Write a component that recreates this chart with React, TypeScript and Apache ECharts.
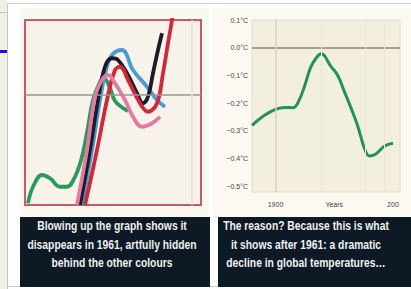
import { useEffect, useRef } from "react";
import * as echarts from "echarts";

// ---- Left panel (blown-up multi-proxy graph) ----
const greenPts = [[1861,-0.433],[1866,-0.367],[1875,-0.32],[1883,-0.333],[1893,-0.367],[1900,-0.367],[1908,-0.327],[1915,-0.247],[1921,-0.127],[1926,-0.02],[1933,0.053],[1937,0.066],[1943,0.028],[1948,-0.024],[1956,-0.052],[1961,-0.064]];
const bluePts = [[1915,-0.44],[1925,-0.22],[1933,-0.02],[1939,0.10],[1945,0.16],[1955,0.18],[1966,0.10],[1980,0.033],[1990,-0.02],[1998,-0.047]];
const blackPts = [[1913,-0.44],[1923,-0.22],[1931,-0.02],[1938,0.113],[1945,0.147],[1951,0.14],[1960,0.087],[1970,0.007],[1976,-0.033],[1981,-0.007],[1986,0.087],[1991,0.18],[1995,0.247]];
const redPts = [[1918,-0.44],[1930,-0.22],[1940,-0.02],[1948,0.10],[1953,0.113],[1961,0.06],[1973,-0.033],[1981,-0.067],[1990,-0.033],[1996,0.087],[2001,0.207],[2005,0.30],[2006,0.34]];
const pinkPts = [[1910,-0.44],[1920,-0.22],[1928,-0.007],[1935,0.06],[1941,0.08],[1948,0.047],[1958,-0.02],[1966,-0.087],[1975,-0.127],[1985,-0.113],[1993,-0.087]];
const bandYears = [1861,1873,1888,1903,1918,1928,1938,1948,1958,1965,1973,1983,1993,2008,2023];
const bandLower = [-0.44,-0.44,-0.44,-0.44,-0.44,-0.34,-0.22,-0.26,-0.32,-0.32,-0.26,-0.10,-0.06,-0.04,-0.02];
const bandUpper = [-0.22,-0.18,-0.22,-0.26,-0.06,0.26,0.28,0.28,0.22,0.14,0.10,0.06,0.0,-0.02,-0.02];

// ---- Right panel (tree-ring series with post-1961 decline) ----
const rightYears = [1880,1890,1900,1908,1915,1920,1925,1930,1935,1939,1947,1953,1959,1965,1970,1976,1980,1985,1993,2000];
const rightValues = [-0.28,-0.245,-0.222,-0.215,-0.216,-0.19,-0.135,-0.07,-0.035,-0.022,-0.066,-0.10,-0.162,-0.225,-0.282,-0.366,-0.39,-0.384,-0.354,-0.344];
const rightYTicks = [0.1, 0, -0.1, -0.2, -0.3, -0.4, -0.5];
const rightYLabels = ["0.1°C", "0.0°C", "−0.1°C", "−0.2°C", "−0.3°C", "−0.4°C", "−0.5°C"];
const rightXTicks = [1900, 1950, 2000];
const rightXLabels = ["1900", "Years", "200"];

const leftCaption = ["Blowing up the graph shows it", "disappears in 1961, artfully hidden", "behind the other colours"];
const rightCaption = ["The reason? Because this is what", "it shows after 1961: a dramatic", "decline in global temperatures…"];

const SANS = '"Liberation Sans", Arial, sans-serif';

function lbl(ticks: number[], labels: string[]) {
  return (v: number) => {
    const i = ticks.findIndex((t) => Math.abs(t - v) < 1e-6);
    return i >= 0 ? labels[i] : "";
  };
}

function leftLine(name: string, pts: number[][], color: string) {
  return {
    name, type: "line", xAxisIndex: 0, yAxisIndex: 0, data: pts, smooth: 0.4,
    symbol: "none", lineStyle: { color, width: 3.8 }, z: 3,
  };
}

export default function App() {
  const ref = useRef<HTMLDivElement>(null);
  useEffect(() => {
    if (!ref.current) return;
    const chart = echarts.init(ref.current, undefined, { renderer: "svg" });
    const bandDiff = bandUpper.map((u, i) => [bandYears[i], u - bandLower[i]]);
    const capStyle = { fill: "#f0f0f0", fontSize: 12, fontWeight: "bold", fontFamily: SANS, align: "center", verticalAlign: "middle", lineHeight: 18.5 };
    const option: any = {
      animation: false,
      backgroundColor: "#ffffff",
      graphic: [
        { type: "rect", z: -10, shape: { x: 0, y: 0, width: 7, height: 289 }, style: { fill: "#f1f0e4" } },
        { type: "rect", z: -10, shape: { x: 0, y: 50, width: 7, height: 3 }, style: { fill: "#1717d8" } },
        { type: "line", z: -9, shape: { x1: 0, y1: 12.5, x2: 7, y2: 12.5 }, style: { stroke: "#c6c6c6", lineWidth: 1 } },
        { type: "line", z: -9, shape: { x1: 7.5, y1: 3, x2: 7.5, y2: 289 }, style: { stroke: "#c6c6c6", lineWidth: 1 } },
        { type: "line", z: -9, shape: { x1: 7, y1: 3.5, x2: 411, y2: 3.5 }, style: { stroke: "#d0d0d0", lineWidth: 1 } },
        { type: "line", z: -9, shape: { x1: 7, y1: 286.5, x2: 411, y2: 286.5 }, style: { stroke: "#d0d0d0", lineWidth: 1 } },
        { type: "rect", z: -8, shape: { x: 20, y: 8, width: 189, height: 209 }, style: { fill: "#fbf8f2" } },
        { type: "rect", z: -8, shape: { x: 213, y: 8, width: 198, height: 209 }, style: { fill: "#fbf9f2" } },
        { type: "rect", z: 50, shape: { x: 20, y: 217, width: 190, height: 70 }, style: { fill: "#0d1a25" } },
        { type: "rect", z: 50, shape: { x: 218, y: 217, width: 193, height: 70 }, style: { fill: "#0d1a25" } },
        { type: "text", z: 60, x: 112, y: 244.5, scaleX: 0.86, style: { ...capStyle, text: leftCaption.join("\n") } },
        { type: "text", z: 60, x: 306, y: 244.5, scaleX: 0.86, style: { ...capStyle, text: rightCaption.join("\n") } },
      ],
      grid: [
        { left: 25, top: 20, width: 176, height: 185, show: true, backgroundColor: "#f7f3ea", borderColor: "#c85a68", borderWidth: 2 },
        { left: 252, top: 20, width: 148, height: 172, show: true, backgroundColor: "#f3efde", borderColor: "#e4dec9", borderWidth: 1 },
      ],
      xAxis: [
        { gridIndex: 0, type: "value", min: 1858, max: 2034, show: false },
        {
          gridIndex: 1, type: "value", min: 1880, max: 2006,
          axisLine: { show: false }, axisTick: { show: false }, splitLine: { show: false },
          axisLabel: { customValues: rightXTicks, formatter: lbl(rightXTicks, rightXLabels), color: "#444", fontSize: 7, fontFamily: SANS, margin: 9 },
        },
      ],
      yAxis: [
        { gridIndex: 0, type: "value", min: -0.44, max: 0.3, show: false },
        {
          gridIndex: 1, type: "value", min: -0.52, max: 0.1,
          axisLine: { show: false }, axisTick: { show: false }, splitLine: { show: false },
          axisLabel: { customValues: rightYTicks, formatter: lbl(rightYTicks, rightYLabels), color: "#444", fontSize: 7, fontFamily: SANS, margin: 4 },
        },
      ],
      series: [
        {
          name: "bandBase", type: "line", xAxisIndex: 0, yAxisIndex: 0, stack: "band", symbol: "none", smooth: 0.3,
          data: bandLower.map((v, i) => [bandYears[i], v]), lineStyle: { width: 0, opacity: 0 }, z: 1,
          markLine: {
            silent: true, symbol: "none", label: { show: false },
            lineStyle: { color: "#9d998d", width: 1.5, type: "solid" },
            data: [{ yAxis: 0 }, { xAxis: 2025, lineStyle: { color: "#e6e1d4", width: 1.5 } }],
          },
        },
        {
          name: "band", type: "line", xAxisIndex: 0, yAxisIndex: 0, stack: "band", symbol: "none", smooth: 0.3,
          data: bandDiff, lineStyle: { width: 0, opacity: 0 }, areaStyle: { color: "#ebe7dc", opacity: 1 }, z: 1,
        },
        leftLine("green", greenPts, "#2a9a5c"),
        leftLine("blue", bluePts, "#4a9bd2"),
        leftLine("black", blackPts, "#1a1c28"),
        leftLine("red", redPts, "#d0283a"),
        leftLine("pink", pinkPts, "#e27aa2"),
        {
          name: "tree rings", type: "line", xAxisIndex: 1, yAxisIndex: 1, smooth: 0.4, symbol: "none",
          data: rightYears.map((y, i) => [y, rightValues[i]]),
          lineStyle: { color: "#23925a", width: 3 }, z: 3,
          markLine: {
            silent: true, symbol: "none", label: { show: false },
            data: [
              { yAxis: 0, lineStyle: { color: "#a39e90", width: 2, type: "solid" } },
              { xAxis: 1900, lineStyle: { color: "#d8d1bd", width: 1.5, type: "solid" } },
              { xAxis: 1939, lineStyle: { color: "#ebe5d3", width: 1, type: "solid" } },
              { xAxis: 1976, lineStyle: { color: "#ebe5d3", width: 1, type: "solid" } },
              { xAxis: 1993, lineStyle: { color: "#ebe5d3", width: 1, type: "solid" } },
            ],
          },
        },
      ],
    };
    chart.setOption(option);
    return () => chart.dispose();
  }, []);
  return <div ref={ref} style={{ position: "fixed", left: 0, top: 0, width: 411, height: 289 }} />;
}
